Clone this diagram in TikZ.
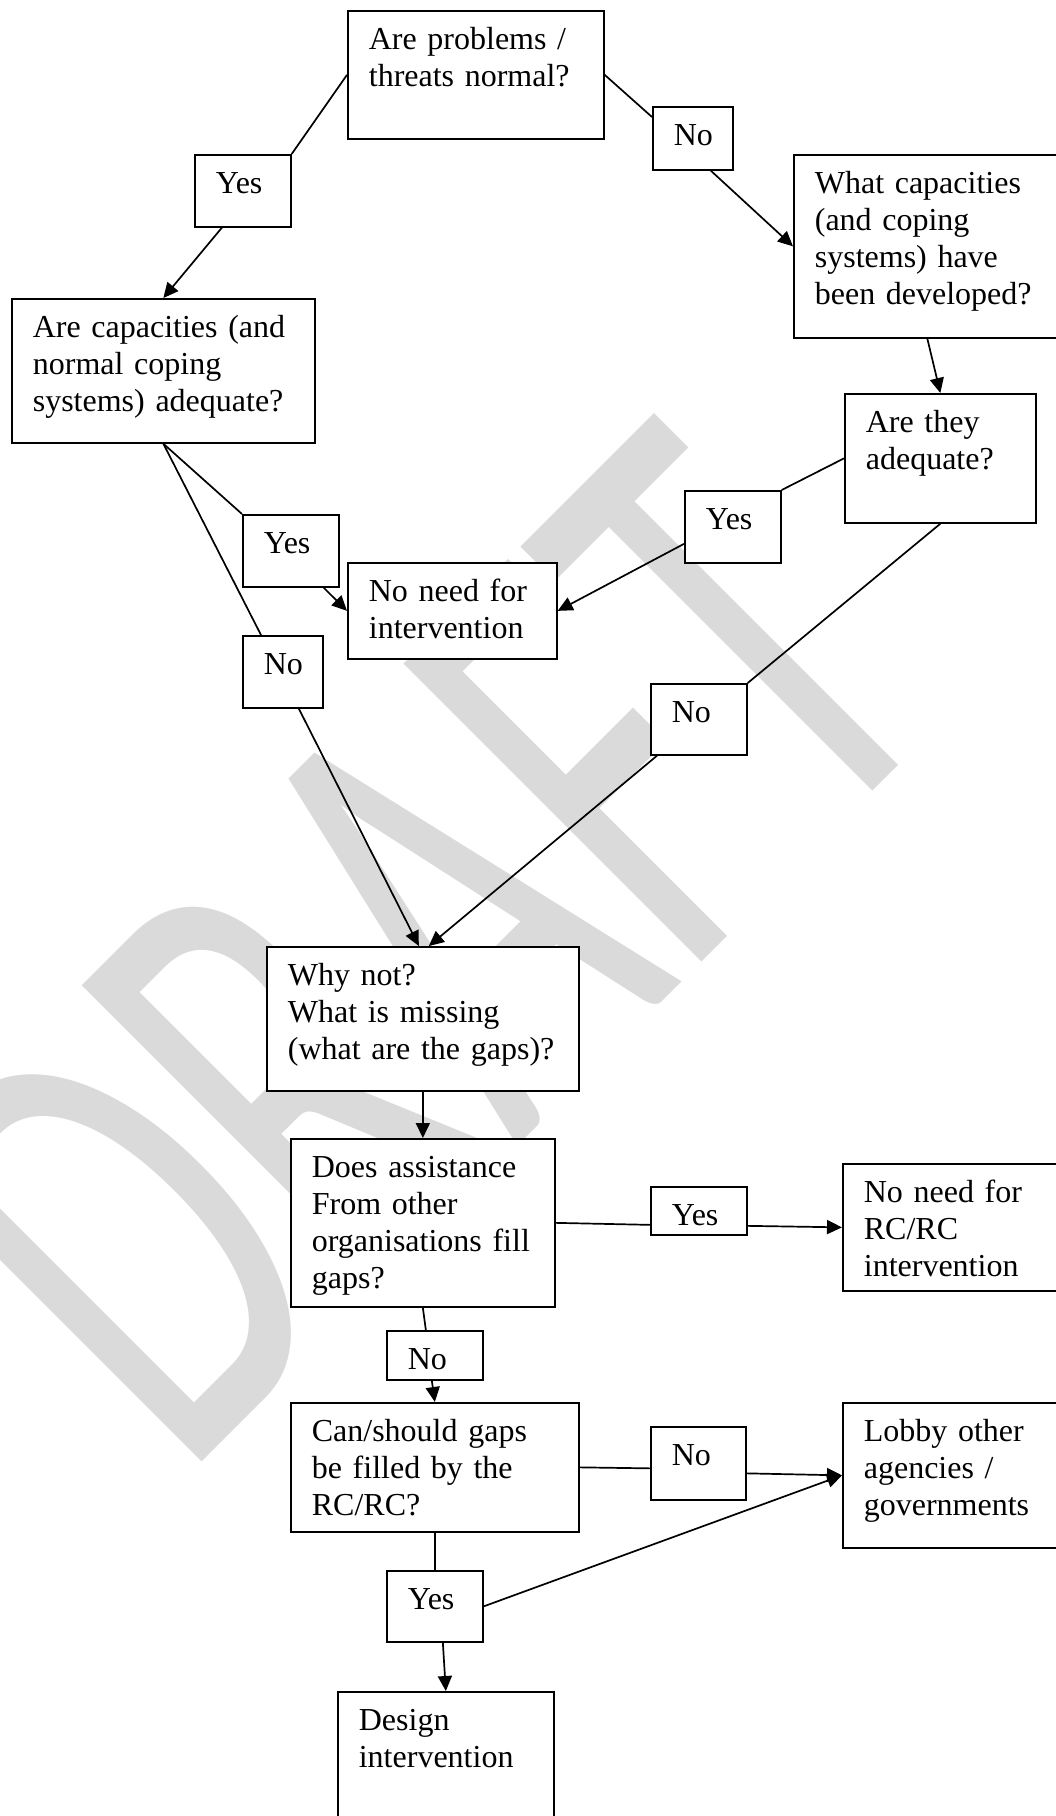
\documentclass[tikz,border=0pt]{standalone}
\usepackage{fontspec}
\setmainfont{Liberation Serif}
\newfontfamily\wmfont{Carlito}
\usetikzlibrary{arrows.meta}
\usetikzlibrary{calc}
\definecolor{wmgray}{RGB}{218,218,218}

\begin{document}
\begin{tikzpicture}[x=1pt, y=-1pt, line width=1.7pt,
    every node/.style={font=\fontsize{32}{37}\selectfont},
    qbox/.style 2 args={draw, fill=white, anchor=north west, align=left,
        inner xsep=21pt, inner ysep=0pt, text width=#1, text height=39pt, text depth=#2},
    arrow/.style={-{Triangle[length=15pt, width=14pt]}}]
    \useasboundingbox (0,0) rectangle (1056,1816);
    % watermark
    \node [rotate=45, anchor=base west, inner sep=0pt, text=wmgray,
        font=\wmfont\fontsize{657}{657}\selectfont] (draft) at (182,1482) {\scalebox{0.62}[1]{DRAFT}};

    \node [qbox={214pt}{89pt}] (prob) at (347,10) {Are problems /\\threats normal?};
    \node [qbox={54pt}{33pt}] (ycap) at (194,154) {Yes};
    \node [qbox={38pt}{24pt}] (nprob) at (652,106) {No};
    \node [qbox={261pt}{105pt}] (cap) at (11,298) {Are capacities (and\\normal coping\\systems) adequate?};
    \node [qbox={225pt}{144pt}] (dev) at (793,154) {What capacities\\(and coping\\systems) have\\been developed?};
    \node [qbox={149pt}{90pt}] (adq) at (844,393) {Are they\\adequate?};
    \node [qbox={54pt}{33pt}] (ycap2) at (242,514) {Yes};
    \node [qbox={167pt}{57pt}] (nneed) at (347,562) {No need for\\intervention};
    \node [qbox={38pt}{33pt}] (ncap) at (242,635) {No};
    \node [qbox={54pt}{33pt}] (yadq) at (684,490) {Yes};
    \node [qbox={54pt}{32pt}] (nadq) at (650,683) {No};
    \node [qbox={270pt}{105pt}] (why) at (266,946) {Why not?\\What is missing\\(what are the gaps)?};
    \node [qbox={222pt}{129pt}] (ass) at (290,1138) {Does assistance\\From other\\organisations fill\\gaps?};
    \node [qbox={54pt}{9pt}] (yass) at (650,1186) {Yes};
    \node [qbox={176pt}{88pt}] (rc) at (842,1163) {No need for\\RC/RC\\intervention};
    \node [qbox={54pt}{10pt}] (nass) at (386,1330) {No};
    \node [qbox={246pt}{90pt}] (filled) at (290,1402) {Can/should gaps\\be filled by the\\RC/RC?};
    \node [qbox={53pt}{34pt}] (nfill) at (650,1426) {No};
    \node [qbox={176pt}{106pt}] (lobby) at (842,1402) {Lobby other\\agencies /\\governments};
    \node [qbox={54pt}{32pt}] (yfill) at (386,1570) {Yes};
    \node [qbox={174pt}{101pt}] (design) at (337,1691) {Design\\intervention};

    \draw (prob.west) -- (ycap.north east);
    \draw [arrow] ($(ycap.south)+(-21,0)$) -- (cap.north);
    \draw (prob.east) -- ($(nprob.north west)+(0,11)$);
    \draw [arrow] ($(nprob.south)+(18,0)$) -- (dev.west);
    \draw [arrow] (dev.south) -- (adq.north);
    \draw (cap.south) -- (ycap2.north west);
    \draw [arrow] ($(ycap2.south east)+(-16,0)$) -- (nneed.west);
    \draw (cap.south) -- ($(ncap.north west)+(19,0)$);
    \draw [arrow] ($(ncap.south)+(16,0)$) -- ($(why.north)+(-4,0)$);
    \draw (adq.west) -- (yadq.north east);
    \draw [arrow] ($(yadq.west)+(0,17)$) -- (nneed.east);
    \draw (adq.south) -- (nadq.north east);
    \draw [arrow] ($(nadq.south west)+(7,0)$) -- ($(why.north)+(6,0)$);
    \draw [arrow] (why.south) -- (ass.north);
    \draw (ass.east) -- ($(yass.west)+(0,14)$);
    \draw [arrow] ($(yass.east)+(0,15)$) -- (rc.west);
    \draw (ass.south) -- ($(nass.north)+(-9,0)$);
    \draw [arrow] ($(nass.south)+(-3,0)$) -- (filled.north);
    \draw (filled.east) -- ($(nfill.west)+(0,5)$);
    \draw [arrow] ($(nfill.east)+(0,10)$) -- (lobby.west);
    \draw (filled.south) -- (yfill.north);
    \draw [arrow] (yfill.east) -- (lobby.west);
    \draw [arrow] ($(yfill.south)+(8,0)$) -- (design.north);
\end{tikzpicture}
\end{document}
